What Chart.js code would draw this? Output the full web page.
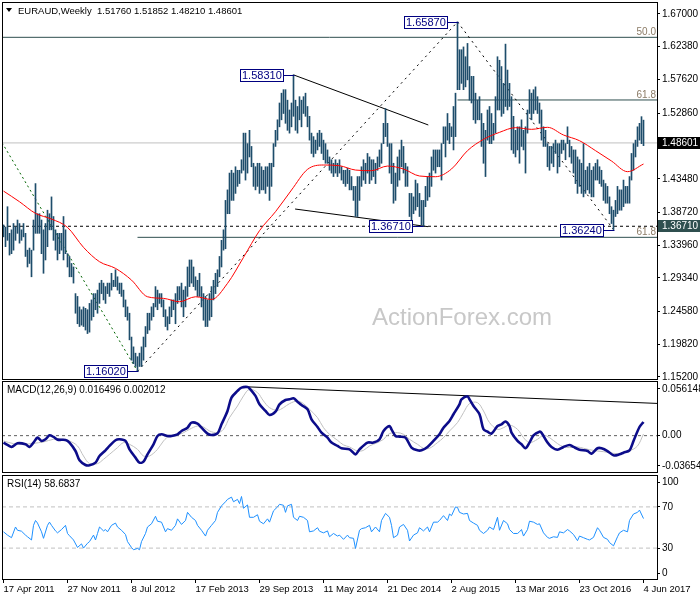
<!DOCTYPE html>
<html><head><meta charset="utf-8">
<script src="https://cdn.jsdelivr.net/npm/chart.js@4.4.1/dist/chart.umd.min.js"></script>
<style>
html,body{margin:0;padding:0;background:#fff;}
#wrap{position:relative;width:700px;height:600px;overflow:hidden;background:#fff;}
canvas{position:absolute;left:0;}
</style></head><body>
<div id="wrap">
<canvas id="cMain" width="700" height="381" style="top:0px"></canvas>
<canvas id="cMacd" width="700" height="94" style="top:380px"></canvas>
<canvas id="cRsi" width="700" height="126" style="top:474px"></canvas>
</div>
<script>
// ---------- DATA ----------
const symbolTitle = "EURAUD,Weekly  1.51760 1.51852 1.48210 1.48601";
const macdTitle = "MACD(12,26,9) 0.016496 0.002012";
const rsiTitle = "RSI(14) 58.6837";
const watermark = "ActionForex.com";

const xTickIdx = [0,32,64,96,128,160,192,224,256,288,320];
const xTickLabels = ["17 Apr 2011","27 Nov 2011","8 Jul 2012","17 Feb 2013","29 Sep 2013","11 May 2014","21 Dec 2014","2 Aug 2015","13 Mar 2016","23 Oct 2016","4 Jun 2017"];

const barHigh = [
1.369,1.366,1.395,1.357,1.362,1.371,1.366,1.376,1.371,1.362,
1.371,1.357,1.333,1.336,1.333,1.376,1.428,1.385,1.385,1.376,
1.362,1.371,1.390,1.385,1.409,1.381,1.362,1.357,1.357,1.357,
1.381,1.362,1.328,1.324,1.314,1.309,1.271,1.267,1.252,1.248,
1.252,1.250,1.248,1.257,1.262,1.271,1.271,1.276,1.286,1.290,
1.286,1.281,1.286,1.286,1.300,1.290,1.305,1.295,1.286,1.286,
1.276,1.262,1.252,1.243,1.209,1.195,1.186,1.181,1.186,1.195,
1.209,1.224,1.243,1.243,1.252,1.257,1.281,1.276,1.271,1.271,
1.262,1.248,1.238,1.252,1.262,1.262,1.271,1.281,1.281,1.286,
1.276,1.281,1.309,1.319,1.319,1.309,1.295,1.290,1.300,1.281,
1.271,1.267,1.262,1.271,1.281,1.290,1.300,1.305,1.324,1.347,
1.362,
1.404,1.419,1.443,1.447,1.443,1.452,1.447,1.447,1.462,1.500,
1.500,1.485,1.504,1.481,1.457,1.452,1.457,1.457,1.452,1.447,
1.452,1.452,1.457,1.457,1.485,1.504,1.519,1.543,1.557,1.562,
1.562,1.547,1.533,1.543,1.5831,1.547,1.538,1.552,1.547,1.552,
1.557,1.538,1.524,1.500,1.495,1.490,1.500,1.504,1.500,1.490,
1.485,1.476,1.466,1.462,1.457,1.462,1.457,1.462,1.452,1.447,
1.447,1.450,1.447,1.438,1.424,1.424,1.438,1.438,1.452,1.462,
1.457,1.471,1.466,1.462,1.462,1.457,1.466,1.476,1.485,1.514,
1.535,1.514,1.485,1.485,1.457,1.443,1.466,1.476,1.490,1.481,
1.457,1.452,1.414,1.414,1.409,1.433,1.428,1.414,1.404,1.404,
1.424,1.438,1.443,1.466,1.476,1.476,1.476,1.476,1.485,1.509,
1.509,1.528,1.514,1.509,1.538,1.557,1.6587,1.619,1.619,1.623,
1.609,1.628,1.595,1.581,1.581,1.557,1.547,1.552,1.528,1.514,
1.504,1.533,1.538,1.528,1.514,1.552,1.609,1.604,1.595,1.571,
1.627,1.590,1.571,1.552,1.524,1.504,1.509,1.509,1.519,1.504,
1.509,1.533,1.562,1.557,1.562,1.566,1.552,1.543,1.533,1.509,
1.504,1.485,1.481,1.481,1.485,1.490,1.485,1.485,1.490,1.490,
1.485,1.509,1.490,1.481,1.476,1.476,1.466,1.462,1.457,1.485,
1.447,1.452,1.457,1.447,1.452,1.457,1.462,1.452,1.447,1.433,
1.428,1.424,1.409,1.395,1.390,1.404,1.424,1.419,1.419,1.433,
1.424,1.424,1.438,1.471,1.485,1.490,1.509,1.514,1.5235,1.51852
];
const barLow = [
1.352,1.338,1.347,1.326,1.328,1.333,1.347,1.357,1.343,1.347,
1.352,1.324,1.309,1.314,1.295,1.333,1.357,1.357,1.357,1.328,
1.300,1.319,1.338,1.362,1.362,1.347,1.333,1.319,1.328,1.333,
1.319,1.328,1.309,1.295,1.295,1.286,1.243,1.228,1.224,1.226,
1.224,1.219,1.214,1.216,1.233,1.238,1.248,1.243,1.257,1.271,
1.262,1.257,1.271,1.267,1.276,1.281,1.281,1.276,1.271,1.267,
1.252,1.238,1.233,1.205,1.176,1.171,1.167,1.1602,1.167,1.167,
1.176,1.195,1.214,1.219,1.233,1.238,1.252,1.248,1.257,1.252,
1.238,1.224,1.219,1.228,1.238,1.248,1.228,1.257,1.262,1.252,
1.238,1.252,1.267,1.281,1.286,1.281,1.276,1.267,1.267,1.252,
1.233,1.224,1.224,1.233,1.238,1.262,1.271,1.281,1.295,1.309,
1.333,
1.335,1.385,1.385,1.404,1.404,1.414,1.424,1.428,1.443,1.447,
1.433,1.443,1.466,1.452,1.424,1.419,1.424,1.414,1.419,1.419,
1.414,1.424,1.404,1.424,1.452,1.481,1.490,1.509,1.519,1.528,
1.514,1.504,1.500,1.509,1.524,1.504,1.500,1.519,1.509,1.528,
1.524,1.509,1.490,1.471,1.466,1.471,1.476,1.481,1.471,1.462,
1.457,1.457,1.447,1.443,1.438,1.443,1.438,1.443,1.433,1.428,
1.424,1.428,1.419,1.419,1.404,1.381,1.381,1.404,1.424,1.433,
1.428,1.443,1.428,1.433,1.438,1.428,1.447,1.452,1.457,1.485,
1.495,1.481,1.443,1.428,1.400,1.404,1.424,1.433,1.452,1.443,
1.424,1.424,1.381,1.376,1.385,1.390,1.395,1.381,1.369,1.3671,
1.395,1.404,1.409,1.424,1.447,1.443,1.452,1.452,1.433,1.485,
1.466,1.490,1.485,1.495,1.476,1.495,1.562,1.562,1.571,1.562,
1.566,1.576,1.547,1.543,1.519,1.514,1.519,1.519,1.481,1.457,
1.438,1.490,1.485,1.485,1.490,1.500,1.533,1.533,1.524,1.528,
1.538,1.533,1.538,1.476,1.471,1.466,1.476,1.457,1.481,1.476,
1.443,1.500,1.528,1.519,1.528,1.533,1.528,1.514,1.490,1.481,
1.481,1.452,1.447,1.457,1.452,1.471,1.443,1.452,1.471,1.476,
1.462,1.485,1.466,1.457,1.443,1.428,1.414,1.424,1.414,1.409,
1.414,1.419,1.414,1.409,1.409,1.433,1.433,1.428,1.424,1.404,
1.400,1.400,1.385,1.371,1.3624,1.381,1.385,1.390,1.390,1.395,
1.400,1.400,1.400,1.433,1.447,1.466,1.481,1.490,1.485,1.4821
];

const maIdx = [0,8,16,24,32,40,48,56,64,72,80,88,96,104,112,120,128,136,144,152,160,168,176,184,192,200,208,216,224,232,240,248,256,264,272,280,288,296,304,312,320];
const maVal = [1.4173,1.4021,1.3855,1.3774,1.3655,1.3370,1.3165,1.3070,1.2903,1.2665,1.2642,1.2594,1.2665,1.2627,1.2856,1.3227,1.3608,1.3879,1.4188,1.4483,1.4545,1.4535,1.4473,1.4464,1.4530,1.4488,1.4388,1.4378,1.4488,1.4750,1.4911,1.5011,1.5078,1.5054,1.5083,1.4973,1.4892,1.4750,1.4602,1.4450,1.4559];

const macdIdx = [0,2,4,7,11,13,15,17,19,21,23,25,27,31,33,36,38,41,43,46,48,51,53,56,58,61,63,66,68,70,72,75,77,79,82,84,87,89,92,94,97,99,102,104,107,109,112,114,117,119,122,123,126,128,131,133,136,138,141,143,145,147,149,152,154,157,159,162,164,167,169,173,176,178,182,185,188,190,193,194,196,198,201,204,207,209,212,215,218,220,223,225,228,229,232,233,235,238,240,242,244,247,249,251,253,254,257,259,261,263,265,268,269,272,274,277,280,283,285,288,292,294,297,299,302,305,308,310,313,315,318,320];
const macdVal = [-0.0084,-0.0112,-0.0136,-0.0092,-0.0104,-0.0136,-0.0084,-0.0024,-0.0064,-0.0044,0.0004,-0.0016,-0.0048,-0.0052,-0.0084,-0.0185,-0.0297,-0.0353,-0.0357,-0.0325,-0.0245,-0.0177,-0.0124,-0.0056,-0.0044,-0.0064,-0.0165,-0.0265,-0.0325,-0.0313,-0.0225,-0.0104,-0.0004,0.0016,-0.0004,-0.0004,0.0016,0.0056,0.0096,0.0157,0.0144,0.0096,0.0024,0.0008,0.0028,0.0136,0.0297,0.0457,0.0538,0.0578,0.0586,0.0570,0.0478,0.0377,0.0297,0.0249,0.0289,0.0377,0.0429,0.0437,0.0449,0.0409,0.0369,0.0317,0.0197,0.0104,0.0036,-0.0024,-0.0084,-0.0124,-0.0152,-0.0165,-0.0225,-0.0165,-0.0084,-0.0084,-0.0044,0.0056,0.0116,0.0076,-0.0004,-0.0012,-0.0024,-0.0144,-0.0177,-0.0177,-0.0136,-0.0064,0.0016,0.0096,0.0177,0.0257,0.0377,0.0437,0.0474,0.0437,0.0357,0.0257,0.0076,0.0048,0.0024,0.0116,0.0136,0.0169,0.0116,0.0036,-0.0064,-0.0104,-0.0152,-0.0084,0.0004,0.0048,0.0036,-0.0084,-0.0136,-0.0169,-0.0136,-0.0112,-0.0136,-0.0169,-0.0185,-0.0217,-0.0152,-0.0152,-0.0185,-0.0237,-0.0225,-0.0205,-0.0177,-0.0064,0.0104,0.0165];

const sigIdx = [0,5,10,15,20,25,30,33,37,40,43,47,50,53,57,60,63,67,70,73,77,80,83,87,90,93,97,100,103,107,110,113,117,120,123,127,130,133,137,140,143,147,150,153,157,160,163,167,170,173,177,180,183,187,190,193,197,200,203,207,210,213,217,220,223,227,230,233,237,240,243,247,250,253,257,260,263,267,270,273,277,280,283,287,290,293,297,300,303,307,310,313,317,320];
const sigVal = [-0.0064,-0.0096,-0.0104,-0.0092,-0.0076,-0.0044,-0.0044,-0.0064,-0.0124,-0.0245,-0.0337,-0.0337,-0.0285,-0.0225,-0.0144,-0.0084,-0.0104,-0.0165,-0.0245,-0.0245,-0.0165,-0.0064,-0.0004,0.0008,0.0036,0.0076,0.0116,0.0104,0.0056,0.0036,0.0076,0.0217,0.0357,0.0478,0.0558,0.0518,0.0417,0.0337,0.0305,0.0337,0.0385,0.0417,0.0385,0.0317,0.0217,0.0096,0.0016,-0.0056,-0.0112,-0.0136,-0.0185,-0.0177,-0.0124,-0.0084,-0.0044,0.0024,0.0036,0.0016,-0.0044,-0.0104,-0.0152,-0.0152,-0.0084,-0.0024,0.0056,0.0157,0.0277,0.0385,0.0397,0.0297,0.0157,0.0076,0.0096,0.0128,0.0076,-0.0024,-0.0084,-0.0044,0.0004,-0.0024,-0.0096,-0.0136,-0.0144,-0.0136,-0.0152,-0.0169,-0.0185,-0.0193,-0.0205,-0.0217,-0.0205,-0.0185,-0.0124,0.0020];

const rsiIdx = [0,2,4,6,7,9,11,12,14,15,16,17,19,20,22,23,24,26,27,29,31,32,33,35,37,39,40,42,43,45,46,47,48,50,51,52,54,56,57,59,61,62,64,65,67,68,69,71,72,74,76,77,79,81,82,84,86,87,89,91,92,94,96,97,99,101,102,104,106,107,109,111,112,114,115,117,118,119,120,122,123,125,127,128,130,132,133,135,137,138,140,141,142,144,145,147,148,150,152,153,155,157,158,160,162,163,165,167,168,170,172,173,175,176,178,179,181,183,184,186,188,189,191,193,194,195,197,198,200,202,203,205,207,208,210,212,213,215,217,218,220,222,223,224,226,227,228,230,232,233,235,237,238,240,242,243,245,247,248,250,252,253,255,257,258,259,260,262,263,265,267,268,270,272,273,275,277,278,280,282,283,285,287,288,290,292,293,295,297,298,300,302,303,305,307,308,310,312,313,315,317,318,320];
const rsiVal = [45.8,42.6,40.1,50.5,47.3,46.4,42.6,41.0,37.9,52.1,56.8,54.3,45.8,39.5,52.1,55.2,52.1,46.7,44.8,48.0,52.1,44.2,42.0,37.9,30.6,34.1,30.0,34.7,36.3,42.6,37.9,44.2,50.5,46.7,48.0,45.8,52.1,54.3,50.5,47.3,43.2,36.3,30.6,28.4,29.7,28.4,36.3,44.2,50.5,53.6,60.9,56.1,55.2,45.8,48.9,47.3,52.1,58.4,53.0,56.8,64.7,59.9,56.8,52.1,47.3,41.7,47.3,52.1,56.8,64.7,71.0,75.0,77.3,79.5,75.0,77.3,73.2,80.1,68.7,71.9,59.9,59.9,62.4,56.1,53.6,58.4,55.2,66.2,70.0,72.5,71.6,64.7,71.0,72.5,59.9,56.8,60.9,59.9,56.8,45.8,46.7,49.8,46.4,44.8,46.7,41.0,44.2,41.7,42.6,38.5,42.6,40.1,39.5,29.7,47.3,48.9,49.8,52.1,45.8,50.5,45.8,56.8,63.7,59.9,52.1,40.1,42.6,50.5,53.0,47.3,36.9,42.6,44.8,49.8,46.7,50.5,45.8,55.2,55.2,56.8,61.5,56.8,63.1,61.5,70.0,69.4,64.7,63.1,63.7,56.8,54.3,52.1,47.3,44.2,47.3,50.5,48.0,59.9,47.3,56.8,53.6,48.0,44.2,44.2,45.8,48.0,41.7,48.0,56.1,55.2,53.0,53.6,44.8,40.4,39.5,41.0,40.4,45.8,44.8,48.0,46.7,43.2,37.2,41.7,40.1,38.5,37.9,40.4,49.8,47.3,40.4,38.5,35.4,32.2,41.0,44.8,47.3,45.8,56.8,63.1,64.7,66.9,58.68];

const priceTicks = [1.152,1.1982,1.2458,1.2934,1.3396,1.3872,1.4348,1.481,1.5286,1.5762,1.6238,1.67];
const macdTicks = [-0.036548,0,0.056148];
const rsiTicks = [0,30,70,100];
const rsiLevels = [30,70];

const fibText = ["50.0","61.8","61.8"];
const fibVal = [1.6367,1.5473,1.3513];
const fibStart = [-0.75,227,67];

const pivotIdx = [67,145,227,210,305];
const pivotVal = [1.1602,1.5831,1.6587,1.3671,1.3624];
const pivotText = ["1.16020","1.58310","1.65870","1.36710","1.36240"];

const lastPrice = 1.48601;
const supportLevel = 1.3671;

// trend lines [startIdx, startVal, endIdx, endVal]
const greenDotLine = [-0.75,1.4865,67,1.1602];
const riseDotLine = [67,1.1602,227,1.6587];
const fallDotLine = [227,1.6587,305,1.3624];
const upperTrend = [145,1.5831,212.4,1.5116];
const lowerTrend = [145.8,1.3917,212.3,1.3665];
const macdTrend = [122.4,0.0587,326.75,0.0388];

// ---------- CHARTS ----------
const X_MIN = -0.75, X_MAX = 326.75;
Chart.defaults.font.family = "'Liberation Sans', Arial, sans-serif";
Chart.defaults.font.size = 10;
Chart.defaults.color = '#000';
const FONT = "'Liberation Sans', Arial, sans-serif";

const pts = (xs, ys) => xs.map((x,k)=>({x:x, y:ys[k]}));
const seg = (a) => [{x:a[0],y:a[1]},{x:a[2],y:a[3]}];
const lineDs = (data, color, extra) => Object.assign({type:'line', data:data, borderColor:color, borderWidth:1, pointRadius:0, fill:false, tension:0}, extra||{});

function xAxis(show){
  return {type:'linear', min:X_MIN, max:X_MAX, offset:false, display:show,
    grid:{display:show, drawOnChartArea:false, tickLength:4, color:'#000'},
    border:{display:false},
    ticks:{autoSkip:false, maxRotation:0, minRotation:0, align:'start', padding:1, font:{size:9.5},
      callback:(v)=>{const k=xTickIdx.indexOf(v); return k>=0?xTickLabels[k]:'';}},
    afterBuildTicks:(s)=>{s.ticks = xTickIdx.map(v=>({value:v}));},
    afterFit:(s)=>{ if(show){s.height=21;} s.paddingLeft=0; s.paddingRight=0; }
  };
}
function yAxis(min,max,ticks,fmt,extraAfterBuild){
  return {type:'linear', position:'right', min:min, max:max,
    grid:{drawOnChartArea:false, tickLength:3, color:'#000'},
    border:{display:false},
    ticks:{padding:2, autoSkip:false, font:{size:10}, callback:fmt},
    afterBuildTicks:(s)=>{ s.ticks = ticks.map(v=>({value:v})); if(extraAfterBuild) extraAfterBuild(s); },
    afterFit:(s)=>{ s.width=43; s.paddingTop=0; s.paddingBottom=0; }
  };
}
function drawFrame(c){
  const ctx=c.ctx, a=c.chartArea;
  ctx.save(); ctx.strokeStyle='#000'; ctx.lineWidth=1;
  ctx.beginPath();
  ctx.moveTo(a.left+0.5, a.top-0.5); ctx.lineTo(a.left+0.5, a.bottom+0.5);
  ctx.moveTo(a.right+0.5, a.top-0.5); ctx.lineTo(a.right+0.5, a.bottom+0.5);
  ctx.moveTo(a.left, a.bottom+0.5); ctx.lineTo(a.right+1, a.bottom+0.5);
  ctx.moveTo(a.left, a.top-0.5); ctx.lineTo(a.right+1, a.top-0.5);
  ctx.stroke(); ctx.restore();
}

const mainDeco = {
  id:'mainDeco',
  beforeDatasetsDraw(c){
    const ctx=c.ctx; ctx.save();
    ctx.font = '24px ' + FONT; ctx.fillStyle='#c8c8c8'; ctx.textBaseline='alphabetic';
    ctx.fillText(watermark, 372, 325);
    ctx.restore();
  },
  afterDraw(c){
    const ctx=c.ctx, xs=c.scales.x, ys=c.scales.y, a=c.chartArea;
    drawFrame(c);
    ctx.save();
    ctx.fillStyle='#000';
    ctx.beginPath(); ctx.moveTo(6,8); ctx.lineTo(12,8); ctx.lineTo(9,12); ctx.closePath(); ctx.fill();
    ctx.font='9.5px '+FONT; ctx.textBaseline='alphabetic'; ctx.textAlign='left';
    ctx.fillText(symbolTitle, 18, 14);
    ctx.font='10px '+FONT;
    ctx.fillStyle='#8b7b66'; ctx.textAlign='right';
    fibVal.forEach((v,k)=>{ ctx.fillText(fibText[k], a.right-1, ys.getPixelForValue(v)-2); });
    ctx.font='11px '+FONT; ctx.textAlign='left'; ctx.textBaseline='middle';
    pivotIdx.forEach((ix,k)=>{
      const px = Math.round(xs.getPixelForValue(ix)), py = Math.round(ys.getPixelForValue(pivotVal[k]))+0.5;
      const tw = ctx.measureText(pivotText[k]).width;
      const w = Math.round(tw)+4, h=13;
      const bx = px-10-w;
      ctx.strokeStyle='#000080'; ctx.lineWidth=1;
      ctx.beginPath(); ctx.moveTo(px-10, py); ctx.lineTo(px+0.5, py); ctx.stroke();
      ctx.fillStyle='#fff'; ctx.fillRect(bx, py-6.5, w, h);
      ctx.strokeRect(bx+0.5, py-6, w-1, h-1);
      ctx.fillStyle='#000080'; ctx.fillText(pivotText[k], bx+2, py+0.5);
    });
    ctx.font='10px '+FONT; ctx.textBaseline='middle';
    const boxes = [[lastPrice,'#000'],[supportLevel,'#2f4f4f']];
    boxes.forEach(b=>{
      const py = Math.round(ys.getPixelForValue(b[0]));
      ctx.fillStyle=b[1]; ctx.fillRect(a.right+1, py-6, 42, 12);
      ctx.fillStyle='#fff'; ctx.fillText(b[0].toFixed(5), a.right+5, py+0.5);
    });
    ctx.restore();
  }
};

new Chart(document.getElementById('cMain'), {
  type:'bar',
  data:{datasets:[
    lineDs([{x:X_MIN,y:lastPrice},{x:X_MAX,y:lastPrice}], '#c0c0c0', {order:5}),
    lineDs([{x:X_MIN,y:fibVal[0]},{x:X_MAX,y:fibVal[0]}], '#2f4f4f', {order:5}),
    lineDs([{x:fibStart[1],y:fibVal[1]},{x:X_MAX,y:fibVal[1]}], '#2f4f4f', {order:5}),
    lineDs([{x:fibStart[2],y:fibVal[2]},{x:X_MAX,y:fibVal[2]}], '#2f4f4f', {order:5}),
    lineDs([{x:X_MIN,y:supportLevel},{x:X_MAX,y:supportLevel}], '#000', {order:5, borderDash:[3,3]}),
    lineDs(seg(greenDotLine), '#006400', {order:4, borderDash:[2,3]}),
    lineDs(seg(riseDotLine), '#000', {order:4, borderDash:[2,4]}),
    lineDs(seg(fallDotLine), '#000', {order:4, borderDash:[2,4]}),
    lineDs(seg(upperTrend), '#000', {order:4}),
    lineDs(seg(lowerTrend), '#000', {order:4}),
    {type:'bar', data:barHigh.map((h,k)=>({x:k, y:[barLow[k], h]})), backgroundColor:'#1e4d6b', borderWidth:0, barThickness:1, grouped:false, order:2},
    lineDs(pts(maIdx, maVal), '#ff0000', {order:1, tension:0.4, cubicInterpolationMode:'monotone'})
  ]},
  options:{responsive:false, animation:false, devicePixelRatio:1,
    layout:{padding:{left:2, top:3, right:0, bottom:2}},
    plugins:{legend:{display:false}, tooltip:{enabled:false}},
    scales:{x:xAxis(false), y:yAxis(1.149146, 1.685676, priceTicks, v=>v.toFixed(5))}
  },
  plugins:[mainDeco]
});

const macdDeco = {id:'macdDeco', afterDraw(c){
  drawFrame(c);
  const ctx=c.ctx; ctx.save(); ctx.font='10px '+FONT; ctx.fillStyle='#000'; ctx.textBaseline='middle';
  ctx.fillText(macdTitle, 7, 10); ctx.restore();
}};
new Chart(document.getElementById('cMacd'), {
  type:'line',
  data:{datasets:[
    lineDs([{x:X_MIN,y:0},{x:X_MAX,y:0}], '#606060', {borderDash:[3,3], order:5}),
    lineDs(seg(macdTrend), '#000', {order:4}),
    lineDs(pts(sigIdx, sigVal), '#c0c0c0', {order:3, tension:0.35}),
    lineDs(pts(macdIdx, macdVal), '#0c0c8a', {order:1, borderWidth:2.6, tension:0.3})
  ]},
  options:{responsive:false, animation:false, devicePixelRatio:1,
    layout:{padding:{left:2, top:2, right:0, bottom:2}},
    plugins:{legend:{display:false}, tooltip:{enabled:false}},
    scales:{x:xAxis(false), y:yAxis(-0.043771, 0.064572, macdTicks, v=> v===0 ? '0.00' : v.toFixed(6))}
  },
  plugins:[macdDeco]
});

const rsiDeco = {id:'rsiDeco', afterDraw(c){
  drawFrame(c);
  const ctx=c.ctx; ctx.save(); ctx.font='10px '+FONT; ctx.fillStyle='#000'; ctx.textBaseline='middle';
  ctx.fillText(rsiTitle, 7, 10); ctx.restore();
}};
new Chart(document.getElementById('cRsi'), {
  type:'line',
  data:{datasets:[
    lineDs([{x:X_MIN,y:rsiLevels[1]},{x:X_MAX,y:rsiLevels[1]}], '#c0c0c0', {borderDash:[4,3], order:5}),
    lineDs([{x:X_MIN,y:rsiLevels[0]},{x:X_MAX,y:rsiLevels[0]}], '#c0c0c0', {borderDash:[4,3], order:5}),
    lineDs(pts(rsiIdx, rsiVal), '#1e90ff', {order:1})
  ]},
  options:{responsive:false, animation:false, devicePixelRatio:1,
    layout:{padding:{left:2, top:2, right:0, bottom:0}},
    plugins:{legend:{display:false}, tooltip:{enabled:false}},
    scales:{x:xAxis(true), y:yAxis(0, 100, rsiTicks, v=>String(v), (s)=>{
      s.getPixelForTick = function(i){ const v=this.ticks[i].value; const p=this.getPixelForValue(v); return v===100 ? p+6 : (v===0 ? p-6 : p); };
    })}
  },
  plugins:[rsiDeco]
});
</script>
</body></html>
